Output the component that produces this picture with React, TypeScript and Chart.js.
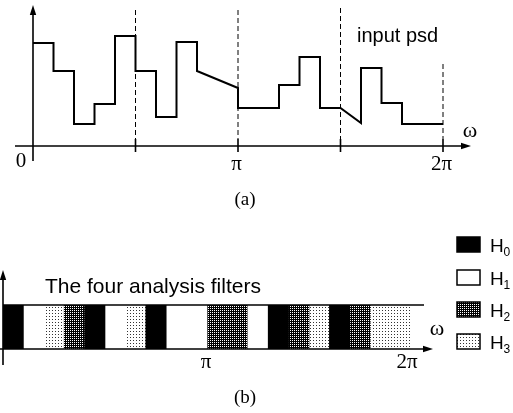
import React, { useEffect, useRef } from 'react';
import { Chart, registerables } from 'chart.js';

Chart.register(...registerables);

const SERIF = '"Liberation Serif", "Times New Roman", serif';
const SANS = '"Liberation Sans", Arial, sans-serif';

// ---- Panel (a): input psd, frequency in units of pi/10 (0..20 = 0..2pi)
const psdEdges = [0, 1, 2, 3, 4, 5, 6, 7, 8, 10, 12, 13, 14, 15, 16, 17, 18, 20];
const psdStart = [103, 75, 22, 42, 110, 75, 29, 104, 75, 38, 61, 89, 38, 38, 78, 43, 22];
const psdEnd = [103, 75, 22, 42, 110, 75, 29, 104, 58, 38, 61, 89, 38, 23, 78, 43, 22];
const tickValues = [0, 5, 10, 15, 20];
const tickLabels = ['0', '', 'π', '', '2π'];
const dashTops = [null, 136, 136, 138, 82];

// ---- Panel (b): which analysis filter owns each pi/10 band
const bandIndex = ['0', '1', '2', '3', '4', '5', '6', '7', '8', '9', '10', '11', '12', '13', '14', '15', '16', '17', '18', '19'];
const bandFilter = [0, 1, 3, 2, 0, 1, 3, 0, 1, 1, 2, 2, 1, 0, 2, 3, 0, 2, 3, 3];
const filterBase = 'H';
const filterSubs = ['0', '1', '2', '3'];
const bottomTickLabels = ['π', '2π'];

function makePattern(kind: 'dark' | 'light'): CanvasPattern | string {
  const c = document.createElement('canvas');
  const n = kind === 'dark' ? 2 : 3;
  c.width = n;
  c.height = n;
  const g = c.getContext('2d');
  if (!g) return kind === 'dark' ? '#444' : '#ccc';
  if (kind === 'dark') {
    g.fillStyle = '#000';
    g.fillRect(0, 0, n, n);
    g.fillStyle = '#fff';
    g.fillRect(0, 0, 1, 1);
  } else {
    g.fillStyle = '#fff';
    g.fillRect(0, 0, n, n);
    g.fillStyle = '#333';
    g.fillRect(1, 1, 1, 1);
  }
  const p = g.createPattern(c, 'repeat');
  return p || (kind === 'dark' ? '#444' : '#ccc');
}

function arrow(ctx: CanvasRenderingContext2D, tx: number, ty: number, dir: 'right' | 'up') {
  ctx.beginPath();
  if (dir === 'right') {
    ctx.moveTo(tx, ty);
    ctx.lineTo(tx - 10, ty - 3.2);
    ctx.lineTo(tx - 10, ty + 3.2);
  } else {
    ctx.moveTo(tx, ty);
    ctx.lineTo(tx - 3.2, ty + 10);
    ctx.lineTo(tx + 3.2, ty + 10);
  }
  ctx.closePath();
  ctx.fill();
}

function seg(ctx: CanvasRenderingContext2D, x1: number, y1: number, x2: number, y2: number) {
  ctx.beginPath();
  ctx.moveTo(x1, y1);
  ctx.lineTo(x2, y2);
  ctx.stroke();
}

const topAxesPlugin = {
  id: 'topAxes',
  beforeDatasetsDraw(chart: any) {
    const { ctx } = chart;
    const xs = chart.scales.x;
    const ys = chart.scales.y;
    const y0 = ys.getPixelForValue(0);
    const x0 = xs.getPixelForValue(0);
    ctx.save();
    ctx.strokeStyle = '#000';
    ctx.fillStyle = '#000';
    ctx.lineWidth = 1.6;
    // x axis
    seg(ctx, x0 - 18, y0, xs.right + 20, y0);
    arrow(ctx, xs.right + 28, y0, 'right');
    // y axis
    seg(ctx, x0, y0 + 15, x0, ys.top + 8);
    arrow(ctx, x0, ys.top, 'up');
    // ticks and dashed guides
    tickValues.forEach((v, i) => {
      const px = xs.getPixelForValue(v);
      if (v !== 0) {
        ctx.lineWidth = 1.6;
        ctx.setLineDash([]);
        seg(ctx, px, y0 - 7, px, y0 + 6);
      }
      const top = dashTops[i];
      if (top !== null) {
        ctx.lineWidth = 1;
        ctx.setLineDash([5, 3]);
        seg(ctx, px, ys.getPixelForValue(top), px, y0 - 7);
      }
    });
    ctx.restore();
  },
  afterDraw(chart: any) {
    const { ctx } = chart;
    const xs = chart.scales.x;
    const ys = chart.scales.y;
    const y0 = ys.getPixelForValue(0);
    ctx.save();
    ctx.fillStyle = '#000';
    ctx.textAlign = 'center';
    ctx.textBaseline = 'alphabetic';
    ctx.font = `21px ${SERIF}`;
    tickValues.forEach((v, i) => {
      const lab = tickLabels[i];
      if (!lab) return;
      const px = xs.getPixelForValue(v);
      if (v === 0) ctx.fillText(lab, px - 12, y0 + 21);
      else ctx.fillText(lab, px - 1.5, y0 + 24);
    });
    ctx.font = `22px ${SERIF}`;
    ctx.fillText('ω', xs.right + 27, y0 - 9);
    ctx.font = `19px ${SERIF}`;
    ctx.fillText('(a)', 245, 205);
    ctx.textAlign = 'left';
    ctx.font = `20px ${SANS}`;
    ctx.fillText('input psd', 357, 42);
    ctx.restore();
  },
};

const bottomAxesPlugin = {
  id: 'bottomAxes',
  afterDatasetsDraw(chart: any) {
    const { ctx } = chart;
    const xs = chart.scales.x;
    const ys = chart.scales.y;
    const yTop = ys.getPixelForValue(1);
    const yBot = ys.getPixelForValue(0);
    const left = xs.left;
    const right = xs.right;
    ctx.save();
    ctx.strokeStyle = '#000';
    ctx.fillStyle = '#000';
    ctx.lineWidth = 1.6;
    seg(ctx, left, yTop, right + 13, yTop);
    seg(ctx, 0, yBot, right + 14, yBot);
    arrow(ctx, right + 22, yBot, 'right');
    seg(ctx, left, yBot + 16, left, yTop - 27);
    arrow(ctx, left, yTop - 35, 'up');

    ctx.textAlign = 'center';
    ctx.textBaseline = 'alphabetic';
    ctx.font = `21px ${SERIF}`;
    const midPx = left + (right - left) * 0.5;
    ctx.fillText(bottomTickLabels[0], midPx - 1, yBot + 19);
    ctx.fillText(bottomTickLabels[1], right - 4, yBot + 19);
    ctx.font = `22px ${SERIF}`;
    ctx.fillText('ω', right + 26, yBot - 14);
    ctx.font = `19px ${SERIF}`;
    ctx.fillText('(b)', 245, 403);
    ctx.textAlign = 'left';
    ctx.font = `21px ${SANS}`;
    ctx.fillText('The four analysis filters', 45, yTop - 12);

    // legend
    const tops = [237, 270, 302, 334];
    chart.data.datasets.forEach((ds: any, i: number) => {
      const t = tops[i];
      ctx.fillStyle = ds.backgroundColor;
      ctx.fillRect(457, t, 23, 15);
      ctx.lineWidth = 1.5;
      ctx.strokeStyle = '#000';
      ctx.strokeRect(457, t, 23, 15);
      ctx.fillStyle = '#000';
      ctx.font = `19px ${SANS}`;
      ctx.fillText(filterBase, 490, t + 15);
      ctx.font = `12px ${SANS}`;
      ctx.fillText(filterSubs[i], 503.5, t + 19);
    });
    ctx.restore();
  },
};

export default function App() {
  const topRef = useRef<HTMLCanvasElement>(null);
  const botRef = useRef<HTMLCanvasElement>(null);

  useEffect(() => {
    if (!topRef.current || !botRef.current) return;
    const pts: { x: number; y: number }[] = [];
    for (let i = 0; i < psdStart.length; i++) {
      pts.push({ x: psdEdges[i], y: psdStart[i] });
      pts.push({ x: psdEdges[i + 1], y: psdEnd[i] });
    }
    const top = new Chart(topRef.current, {
      type: 'line',
      data: {
        datasets: [
          {
            label: 'input psd',
            data: pts,
            borderColor: '#000',
            borderWidth: 2,
            pointRadius: 0,
            tension: 0,
            fill: false,
            clip: false as any,
          },
        ],
      },
      options: {
        responsive: false,
        animation: false,
        devicePixelRatio: 1,
        layout: { padding: { left: 33, right: 70, top: 5, bottom: 267 } },
        plugins: { legend: { display: false }, tooltip: { enabled: false }, title: { display: false } },
        scales: {
          x: { type: 'linear', min: 0, max: 20, display: false },
          y: { type: 'linear', min: 0, max: 141, display: false },
        },
      },
      plugins: [topAxesPlugin],
    });

    const fills: (string | CanvasPattern)[] = ['#000', '#fff', makePattern('dark'), makePattern('light')];
    const bot = new Chart(botRef.current, {
      type: 'bar',
      data: {
        labels: bandIndex,
        datasets: filterSubs.map((s, k) => ({
          label: filterBase + s,
          data: bandFilter.map((f) => (f === k ? 1 : null)),
          backgroundColor: fills[k] as any,
          borderWidth: 0,
          barPercentage: 1,
          categoryPercentage: 1,
          grouped: false,
        })),
      },
      options: {
        responsive: false,
        animation: false,
        devicePixelRatio: 1,
        layout: { padding: { left: 3, right: 102, top: 305, bottom: 64 } },
        plugins: { legend: { display: false }, tooltip: { enabled: false }, title: { display: false } },
        scales: {
          x: { type: 'category', display: false, offset: true },
          y: { type: 'linear', min: 0, max: 1, display: false },
        },
      },
      plugins: [bottomAxesPlugin],
    });
    return () => {
      top.destroy();
      bot.destroy();
    };
  }, []);

  const cs: React.CSSProperties = { position: 'absolute', left: 0, top: 0, width: 513, height: 413 };
  return (
    <div style={{ position: 'absolute', left: 0, top: 0, width: 513, height: 413, background: '#fff', overflow: 'hidden' }}>
      <canvas ref={topRef} width={513} height={413} style={cs} />
      <canvas ref={botRef} width={513} height={413} style={cs} />
    </div>
  );
}
